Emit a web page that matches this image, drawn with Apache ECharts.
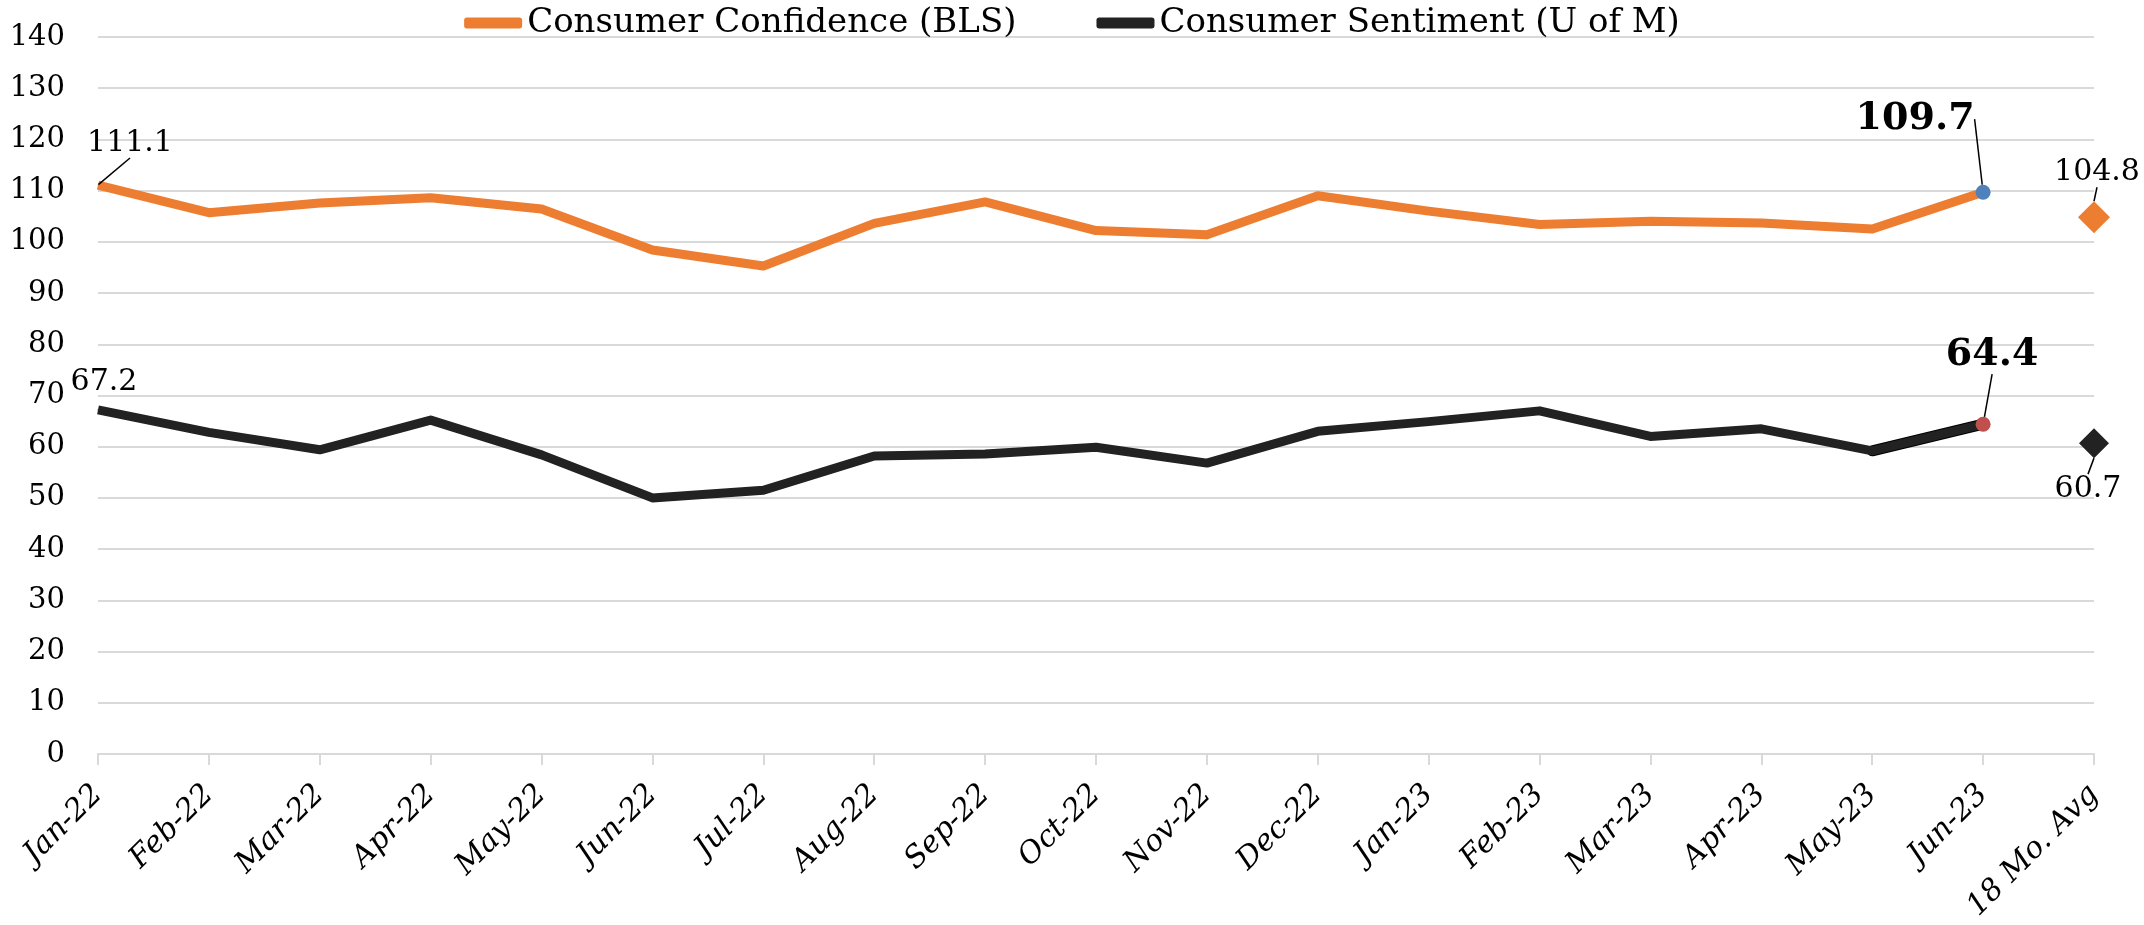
<!DOCTYPE html>
<html>
<head>
<meta charset="utf-8">
<title>Consumer Confidence vs Consumer Sentiment</title>
<script src="https://cdn.jsdelivr.net/npm/echarts@6/dist/echarts.min.js"></script>
<style>
  html, body { margin: 0; padding: 0; background: #fff; }
  #chart { width: 2144px; height: 925px; }
</style>
</head>
<body>
<div id="chart"></div>
<script>
// ── Data ──────────────────────────────────────────────────────────────
const months = ['Jan-22', 'Feb-22', 'Mar-22', 'Apr-22', 'May-22', 'Jun-22', 'Jul-22', 'Aug-22', 'Sep-22',
  'Oct-22', 'Nov-22', 'Dec-22', 'Jan-23', 'Feb-23', 'Mar-23', 'Apr-23', 'May-23', 'Jun-23']
const avgLabel = '18 Mo. Avg'
const confidence = [111.1, 105.7, 107.6, 108.6, 106.4, 98.4, 95.3, 103.6, 107.8,
  102.2, 101.4, 109.0, 106.0, 103.4, 104.0, 103.7, 102.5, 109.7]
const sentiment = [67.2, 62.8, 59.4, 65.2, 58.4, 50.0, 51.5, 58.2, 58.6,
  59.9, 56.8, 63.0, 64.9, 67.0, 62.0, 63.5, 59.2, 64.4]
const confidenceAvg = 104.8
const sentimentAvg = 60.7
const yTicks = { min: 0, max: 140, step: 10 }

// ── Style ─────────────────────────────────────────────────────────────
const ORANGE = '#ED7D31'
const DARK = '#222222'
const GRIDC = '#D9D9D9'
const SERIF = '"DejaVu Serif", serif'
const last = months.length - 1

// label offset from its point (px): first point / last point
const labelOffsets = {
  conf: { first: [32, -42], last: [-68, -73] },
  sent: { first: [6, -28], last: [9, -69] },
  confAvg: { first: [3, -45] },
  sentAvg: { first: [-6, 46] },
}

function layoutFor(id) {
  return params => {
    const set = labelOffsets[id]
    const off = params.dataIndex === 0 ? set.first : set.last
    if (!off) return {}
    const r = params.rect
    return {
      x: r.x + r.width / 2 + off[0],
      y: r.y + r.height / 2 + off[1],
      align: 'center',
      verticalAlign: 'middle',
    }
  }
}

function plainLabel(size, bold) {
  return {
    show: true,
    fontFamily: SERIF,
    fontSize: size,
    fontWeight: bold ? 'bold' : 'normal',
    color: '#000',
    formatter: p => Array.isArray(p.value) ? p.value[1].toFixed(1) : Number(p.value).toFixed(1),
  }
}

function lineData(values, endColor, firstLine) {
  return values.map((v, i) => {
    if (i === 0) {
      return { value: v, symbolSize: 1, label: plainLabel(30, false), labelLine: { show: firstLine } }
    }
    if (i === last) {
      return {
        value: v, symbol: 'circle', symbolSize: 15,
        itemStyle: { color: endColor },
        label: plainLabel(38, true), labelLine: { show: true },
      }
    }
    return { value: v, symbolSize: 0 }
  })
}

const categories = months.concat([avgLabel])

const chart = echarts.init(document.getElementById('chart'), null, { renderer: 'canvas' })

chart.setOption({
  animation: false,
  backgroundColor: '#fff',
  textStyle: { fontFamily: SERIF },
  grid: { left: 98, right: 50, top: 37, bottom: 171, containLabel: false, outerBoundsMode: 'none' },
  legend: {
    data: ['Consumer Confidence (BLS)', 'Consumer Sentiment (U of M)'],
    top: 1,
    left: 'center',
    itemWidth: 58,
    itemHeight: 11,
    itemGap: 80,
    icon: 'roundRect',
    textStyle: { fontFamily: SERIF, fontSize: 34, color: '#000' },
  },
  xAxis: {
    type: 'category',
    data: categories,
    boundaryGap: false,
    axisLine: { lineStyle: { color: GRIDC, width: 2 } },
    axisTick: { show: true, interval: 0, length: 11, lineStyle: { color: GRIDC, width: 2 } },
    axisLabel: {
      interval: 0, rotate: 45, margin: 36,
      fontFamily: SERIF, fontStyle: 'italic', fontSize: 30, color: '#000',
    },
    splitLine: { show: false },
  },
  yAxis: {
    type: 'value',
    min: yTicks.min,
    max: yTicks.max,
    interval: yTicks.step,
    axisLine: { show: false },
    axisTick: { show: false },
    axisLabel: { fontFamily: SERIF, fontSize: 29, color: '#000', margin: 33 },
    splitLine: { lineStyle: { color: GRIDC, width: 2 } },
  },
  series: [
    {
      id: 'conf',
      name: 'Consumer Confidence (BLS)',
      type: 'line',
      data: lineData(confidence, '#4F81BD', true),
      symbol: 'circle',
      showSymbol: true,
      showAllSymbol: true,
      color: ORANGE,
      lineStyle: { color: ORANGE, width: 9, join: 'round' },
      itemStyle: { color: ORANGE },
      label: { show: false },
      labelLine: { lineStyle: { color: '#000', width: 1.5 } },
      labelLayout: layoutFor('conf'),
      z: 3,
    },
    {
      id: 'sentEnd',
      name: 'sentEnd',
      type: 'line',
      data: sentiment.map((v, i) => (i >= last - 1 ? v : null)),
      symbol: 'none',
      lineStyle: { color: '#000', width: 11, cap: 'round' },
      z: 2,
    },
    {
      id: 'sent',
      name: 'Consumer Sentiment (U of M)',
      type: 'line',
      data: lineData(sentiment, '#C0504D', false),
      symbol: 'circle',
      showSymbol: true,
      showAllSymbol: true,
      color: DARK,
      lineStyle: { color: DARK, width: 9, join: 'round' },
      itemStyle: { color: DARK },
      label: { show: false },
      labelLine: { lineStyle: { color: '#000', width: 1.5 } },
      labelLayout: layoutFor('sent'),
      z: 3,
    },
    {
      id: 'confAvg',
      name: 'confAvg',
      type: 'scatter',
      data: [[avgLabel, confidenceAvg]],
      symbol: 'diamond',
      symbolSize: 32,
      itemStyle: { color: ORANGE, opacity: 1 },
      label: plainLabel(30, false),
      labelLine: { show: true, lineStyle: { color: '#000', width: 1.5 } },
      labelLayout: layoutFor('confAvg'),
      z: 4,
    },
    {
      id: 'sentAvg',
      name: 'sentAvg',
      type: 'scatter',
      data: [[avgLabel, sentimentAvg]],
      symbol: 'diamond',
      symbolSize: 30,
      itemStyle: { color: DARK, opacity: 1 },
      label: plainLabel(30, false),
      labelLine: { show: true, lineStyle: { color: '#000', width: 1.5 } },
      labelLayout: layoutFor('sentAvg'),
      z: 4,
    },
  ],
})
</script>
</body>
</html>
